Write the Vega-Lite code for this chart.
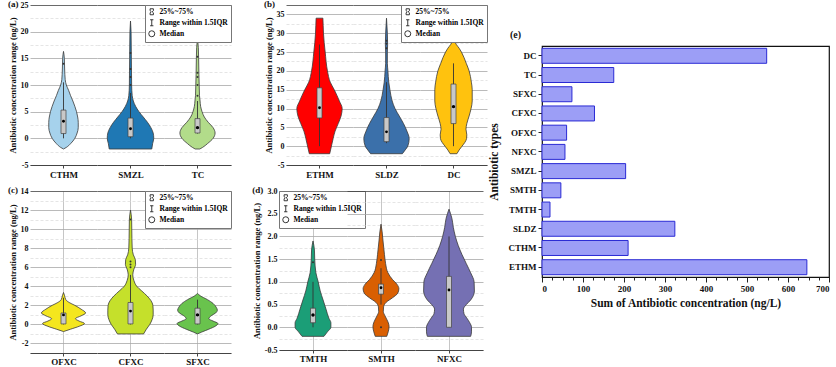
{
"$schema": "https://vega.github.io/schema/vega-lite/v6.json",
"padding": {"left": 8, "top": 0, "right": 0, "bottom": 0},
"config": {
  "font": "Liberation Serif",
  "view": {"stroke": null},
  "axis": {"labelFont": "Liberation Serif", "titleFont": "Liberation Serif", "labelFontWeight": "bold", "titleFontWeight": "bold", "labelColor": "#111", "titleColor": "#111"},
  "title": {"font": "Liberation Serif", "fontWeight": "bold", "fontSize": 9, "color": "#111"},
  "legend": {"orient": "top-right", "offset": 0, "title": null, "padding": 3, "fillColor": "#ffffff", "strokeColor": "#777", "rowPadding": 0, "labelFontSize": 7.5, "labelFont": "Liberation Serif", "labelFontWeight": "bold", "labelOffset": 4, "symbolSize": 36, "symbolStrokeWidth": 0.9, "symbolStrokeColor": "#222"}
},
"datasets": {
  "a": [
    {"drug":"CTHM","k":"v","v":16.3,"w":0},{"drug":"CTHM","k":"v","v":15,"w":6},{"drug":"CTHM","k":"v","v":13,"w":8},{"drug":"CTHM","k":"v","v":11,"w":12},{"drug":"CTHM","k":"v","v":10,"w":20},{"drug":"CTHM","k":"v","v":9,"w":36},{"drug":"CTHM","k":"v","v":8,"w":50},{"drug":"CTHM","k":"v","v":7,"w":66},{"drug":"CTHM","k":"v","v":6,"w":80},{"drug":"CTHM","k":"v","v":5,"w":92},{"drug":"CTHM","k":"v","v":4,"w":100},{"drug":"CTHM","k":"v","v":3,"w":104},{"drug":"CTHM","k":"v","v":2,"w":104},{"drug":"CTHM","k":"v","v":1,"w":96},{"drug":"CTHM","k":"v","v":0,"w":80},{"drug":"CTHM","k":"v","v":-1,"w":50},{"drug":"CTHM","k":"v","v":-1.7,"w":20},{"drug":"CTHM","k":"v","v":-2,"w":0},
    {"drug":"SMZL","k":"v","v":22,"w":0},{"drug":"SMZL","k":"v","v":20,"w":4},{"drug":"SMZL","k":"v","v":15,"w":6},{"drug":"SMZL","k":"v","v":10,"w":8},{"drug":"SMZL","k":"v","v":8,"w":12},{"drug":"SMZL","k":"v","v":7,"w":20},{"drug":"SMZL","k":"v","v":6,"w":36},{"drug":"SMZL","k":"v","v":5,"w":60},{"drug":"SMZL","k":"v","v":4,"w":90},{"drug":"SMZL","k":"v","v":3,"w":120},{"drug":"SMZL","k":"v","v":2,"w":144},{"drug":"SMZL","k":"v","v":1,"w":160},{"drug":"SMZL","k":"v","v":0,"w":164},{"drug":"SMZL","k":"v","v":-1,"w":156},{"drug":"SMZL","k":"v","v":-2,"w":150},
    {"drug":"TC","k":"v","v":18.8,"w":0},{"drug":"TC","k":"v","v":17,"w":6},{"drug":"TC","k":"v","v":15,"w":8},{"drug":"TC","k":"v","v":12,"w":10},{"drug":"TC","k":"v","v":10,"w":12},{"drug":"TC","k":"v","v":8,"w":14},{"drug":"TC","k":"v","v":7,"w":18},{"drug":"TC","k":"v","v":6,"w":22},{"drug":"TC","k":"v","v":5,"w":32},{"drug":"TC","k":"v","v":4,"w":48},{"drug":"TC","k":"v","v":3,"w":76},{"drug":"TC","k":"v","v":2,"w":110},{"drug":"TC","k":"v","v":1,"w":124},{"drug":"TC","k":"v","v":0,"w":110},{"drug":"TC","k":"v","v":-1,"w":70},{"drug":"TC","k":"v","v":-1.7,"w":36},{"drug":"TC","k":"v","v":-2,"w":16},
    {"drug":"CTHM","k":"b","lo":0,"q1":0.9,"med":3.2,"q3":5.3,"hi":10.5},
    {"drug":"SMZL","k":"b","lo":0,"q1":0.3,"med":1.8,"q3":3.8,"hi":8.5},
    {"drug":"TC","k":"b","lo":0.9,"q1":1,"med":2,"q3":3.7,"hi":7},
    {"drug":"CTHM","k":"o","v":14},
    {"drug":"SMZL","k":"o","v":10},{"drug":"SMZL","k":"o","v":11.5},{"drug":"SMZL","k":"o","v":13},{"drug":"SMZL","k":"o","v":16},
    {"drug":"TC","k":"o","v":8},{"drug":"TC","k":"o","v":10},{"drug":"TC","k":"o","v":11.5},{"drug":"TC","k":"o","v":12.3},{"drug":"TC","k":"o","v":15.3}
  ],
  "b": [
    {"drug":"ETHM","k":"v","v":34,"w":24},{"drug":"ETHM","k":"v","v":32,"w":26},{"drug":"ETHM","k":"v","v":30,"w":28},{"drug":"ETHM","k":"v","v":25,"w":40},{"drug":"ETHM","k":"v","v":20,"w":56},{"drug":"ETHM","k":"v","v":17,"w":76},{"drug":"ETHM","k":"v","v":15,"w":104},{"drug":"ETHM","k":"v","v":12,"w":140},{"drug":"ETHM","k":"v","v":10,"w":160},{"drug":"ETHM","k":"v","v":8,"w":152},{"drug":"ETHM","k":"v","v":6,"w":132},{"drug":"ETHM","k":"v","v":4,"w":110},{"drug":"ETHM","k":"v","v":2,"w":96},{"drug":"ETHM","k":"v","v":0,"w":84},{"drug":"ETHM","k":"v","v":-2,"w":72},
    {"drug":"SLDZ","k":"v","v":34,"w":0},{"drug":"SLDZ","k":"v","v":30,"w":6},{"drug":"SLDZ","k":"v","v":27,"w":8},{"drug":"SLDZ","k":"v","v":25,"w":6},{"drug":"SLDZ","k":"v","v":22,"w":6},{"drug":"SLDZ","k":"v","v":20,"w":10},{"drug":"SLDZ","k":"v","v":17,"w":16},{"drug":"SLDZ","k":"v","v":15,"w":24},{"drug":"SLDZ","k":"v","v":12,"w":40},{"drug":"SLDZ","k":"v","v":10,"w":60},{"drug":"SLDZ","k":"v","v":8,"w":90},{"drug":"SLDZ","k":"v","v":6,"w":120},{"drug":"SLDZ","k":"v","v":4,"w":144},{"drug":"SLDZ","k":"v","v":2,"w":160},{"drug":"SLDZ","k":"v","v":0,"w":150},{"drug":"SLDZ","k":"v","v":-1,"w":132},{"drug":"SLDZ","k":"v","v":-2,"w":112},
    {"drug":"DC","k":"v","v":29,"w":0},{"drug":"DC","k":"v","v":28,"w":6},{"drug":"DC","k":"v","v":27,"w":20},{"drug":"DC","k":"v","v":26,"w":40},{"drug":"DC","k":"v","v":25,"w":56},{"drug":"DC","k":"v","v":22,"w":90},{"drug":"DC","k":"v","v":20,"w":110},{"drug":"DC","k":"v","v":17,"w":126},{"drug":"DC","k":"v","v":15,"w":132},{"drug":"DC","k":"v","v":12,"w":132},{"drug":"DC","k":"v","v":10,"w":124},{"drug":"DC","k":"v","v":8,"w":110},{"drug":"DC","k":"v","v":6,"w":94},{"drug":"DC","k":"v","v":4.5,"w":88},{"drug":"DC","k":"v","v":3,"w":94},{"drug":"DC","k":"v","v":2,"w":92},{"drug":"DC","k":"v","v":1,"w":80},{"drug":"DC","k":"v","v":0,"w":60},{"drug":"DC","k":"v","v":-1,"w":40},{"drug":"DC","k":"v","v":-2,"w":24},
    {"drug":"ETHM","k":"b","lo":0,"q1":7.5,"med":10.2,"q3":15.5,"hi":27},
    {"drug":"SLDZ","k":"b","lo":0.8,"q1":1.2,"med":3.8,"q3":7.6,"hi":17},
    {"drug":"DC","k":"b","lo":0,"q1":6,"med":10.5,"q3":16.5,"hi":22},
    {"drug":"SLDZ","k":"o","v":26},{"drug":"SLDZ","k":"o","v":27.2},{"drug":"SLDZ","k":"o","v":28}
  ],
  "c": [
    {"drug":"OFXC","k":"v","v":3.35,"w":0},{"drug":"OFXC","k":"v","v":3,"w":8},{"drug":"OFXC","k":"v","v":2.6,"w":16},{"drug":"OFXC","k":"v","v":2.3,"w":40},{"drug":"OFXC","k":"v","v":2,"w":80},{"drug":"OFXC","k":"v","v":1.6,"w":124},{"drug":"OFXC","k":"v","v":1.2,"w":156},{"drug":"OFXC","k":"v","v":0.9,"w":124},{"drug":"OFXC","k":"v","v":0.6,"w":84},{"drug":"OFXC","k":"v","v":0.35,"w":110},{"drug":"OFXC","k":"v","v":0.1,"w":148},{"drug":"OFXC","k":"v","v":-0.2,"w":110},{"drug":"OFXC","k":"v","v":-0.5,"w":50},{"drug":"OFXC","k":"v","v":-0.75,"w":0},
    {"drug":"CFXC","k":"v","v":12,"w":0},{"drug":"CFXC","k":"v","v":11,"w":8},{"drug":"CFXC","k":"v","v":9,"w":10},{"drug":"CFXC","k":"v","v":8,"w":12},{"drug":"CFXC","k":"v","v":7.3,"w":20},{"drug":"CFXC","k":"v","v":6.8,"w":34},{"drug":"CFXC","k":"v","v":6.3,"w":36},{"drug":"CFXC","k":"v","v":5.8,"w":24},{"drug":"CFXC","k":"v","v":5.2,"w":16},{"drug":"CFXC","k":"v","v":4.6,"w":24},{"drug":"CFXC","k":"v","v":4,"w":44},{"drug":"CFXC","k":"v","v":3.5,"w":80},{"drug":"CFXC","k":"v","v":3,"w":116},{"drug":"CFXC","k":"v","v":2.5,"w":144},{"drug":"CFXC","k":"v","v":2,"w":158},{"drug":"CFXC","k":"v","v":1.5,"w":160},{"drug":"CFXC","k":"v","v":1,"w":160},{"drug":"CFXC","k":"v","v":0.5,"w":152},{"drug":"CFXC","k":"v","v":0,"w":136},{"drug":"CFXC","k":"v","v":-0.5,"w":112},{"drug":"CFXC","k":"v","v":-1,"w":92},
    {"drug":"SFXC","k":"v","v":3.25,"w":0},{"drug":"SFXC","k":"v","v":3,"w":20},{"drug":"SFXC","k":"v","v":2.6,"w":70},{"drug":"SFXC","k":"v","v":2.2,"w":110},{"drug":"SFXC","k":"v","v":1.8,"w":132},{"drug":"SFXC","k":"v","v":1.5,"w":140},{"drug":"SFXC","k":"v","v":1.2,"w":128},{"drug":"SFXC","k":"v","v":0.9,"w":96},{"drug":"SFXC","k":"v","v":0.6,"w":80},{"drug":"SFXC","k":"v","v":0.35,"w":110},{"drug":"SFXC","k":"v","v":0.1,"w":144},{"drug":"SFXC","k":"v","v":-0.2,"w":124},{"drug":"SFXC","k":"v","v":-0.5,"w":80},{"drug":"SFXC","k":"v","v":-0.8,"w":30},{"drug":"SFXC","k":"v","v":-1,"w":0},
    {"drug":"OFXC","k":"b","lo":0,"q1":0.05,"med":1.0,"q3":1.2,"hi":2.8},
    {"drug":"CFXC","k":"b","lo":0,"q1":0.05,"med":1.4,"q3":2.3,"hi":5.2},
    {"drug":"SFXC","k":"b","lo":0,"q1":0.05,"med":1.0,"q3":1.7,"hi":2.6},
    {"drug":"CFXC","k":"o","v":6.0},{"drug":"CFXC","k":"o","v":6.3},{"drug":"CFXC","k":"o","v":6.6},{"drug":"CFXC","k":"o","v":11}
  ],
  "d": [
    {"drug":"TMTH","k":"v","v":1.9,"w":0},{"drug":"TMTH","k":"v","v":1.7,"w":10},{"drug":"TMTH","k":"v","v":1.5,"w":12},{"drug":"TMTH","k":"v","v":1.2,"w":20},{"drug":"TMTH","k":"v","v":1,"w":36},{"drug":"TMTH","k":"v","v":0.8,"w":50},{"drug":"TMTH","k":"v","v":0.6,"w":70},{"drug":"TMTH","k":"v","v":0.4,"w":90},{"drug":"TMTH","k":"v","v":0.2,"w":110},{"drug":"TMTH","k":"v","v":0.1,"w":124},{"drug":"TMTH","k":"v","v":0,"w":124},{"drug":"TMTH","k":"v","v":-0.1,"w":100},{"drug":"TMTH","k":"v","v":-0.2,"w":76},
    {"drug":"SMTH","k":"v","v":2.27,"w":0},{"drug":"SMTH","k":"v","v":2.1,"w":8},{"drug":"SMTH","k":"v","v":1.9,"w":14},{"drug":"SMTH","k":"v","v":1.6,"w":24},{"drug":"SMTH","k":"v","v":1.4,"w":32},{"drug":"SMTH","k":"v","v":1.2,"w":48},{"drug":"SMTH","k":"v","v":1.05,"w":80},{"drug":"SMTH","k":"v","v":0.95,"w":110},{"drug":"SMTH","k":"v","v":0.85,"w":124},{"drug":"SMTH","k":"v","v":0.75,"w":116},{"drug":"SMTH","k":"v","v":0.65,"w":80},{"drug":"SMTH","k":"v","v":0.55,"w":36},{"drug":"SMTH","k":"v","v":0.45,"w":18},{"drug":"SMTH","k":"v","v":0.35,"w":16},{"drug":"SMTH","k":"v","v":0.25,"w":28},{"drug":"SMTH","k":"v","v":0.12,"w":48},{"drug":"SMTH","k":"v","v":0.02,"w":56},{"drug":"SMTH","k":"v","v":-0.1,"w":50},{"drug":"SMTH","k":"v","v":-0.2,"w":40},
    {"drug":"NFXC","k":"v","v":2.6,"w":0},{"drug":"NFXC","k":"v","v":2.4,"w":20},{"drug":"NFXC","k":"v","v":2.2,"w":30},{"drug":"NFXC","k":"v","v":2,"w":44},{"drug":"NFXC","k":"v","v":1.8,"w":64},{"drug":"NFXC","k":"v","v":1.6,"w":90},{"drug":"NFXC","k":"v","v":1.4,"w":120},{"drug":"NFXC","k":"v","v":1.2,"w":150},{"drug":"NFXC","k":"v","v":1,"w":174},{"drug":"NFXC","k":"v","v":0.8,"w":176},{"drug":"NFXC","k":"v","v":0.6,"w":150},{"drug":"NFXC","k":"v","v":0.5,"w":120},{"drug":"NFXC","k":"v","v":0.4,"w":100},{"drug":"NFXC","k":"v","v":0.3,"w":104},{"drug":"NFXC","k":"v","v":0.2,"w":124},{"drug":"NFXC","k":"v","v":0.1,"w":144},{"drug":"NFXC","k":"v","v":0,"w":156},{"drug":"NFXC","k":"v","v":-0.1,"w":156},{"drug":"NFXC","k":"v","v":-0.2,"w":150},
    {"drug":"TMTH","k":"b","lo":0,"q1":0.1,"med":0.27,"q3":0.42,"hi":1.0},
    {"drug":"SMTH","k":"b","lo":0.5,"q1":0.73,"med":0.87,"q3":0.95,"hi":1.3},
    {"drug":"NFXC","k":"b","lo":0,"q1":0,"med":0.82,"q3":1.12,"hi":2.0},
    {"drug":"TMTH","k":"o","v":1.43},{"drug":"SMTH","k":"o","v":1.48},{"drug":"SMTH","k":"o","v":0.0}
  ],
  "e": [
    {"drug":"DC","sum":548},{"drug":"TC","sum":175},{"drug":"SFXC","sum":73},{"drug":"CFXC","sum":128},{"drug":"OFXC","sum":60},{"drug":"NFXC","sum":56},{"drug":"SMZL","sum":204},{"drug":"SMTH","sum":46},{"drug":"TMTH","sum":19.5},{"drug":"SLDZ","sum":324},{"drug":"CTHM","sum":210},{"drug":"ETHM","sum":646}
  ]
},
"hconcat": [
  {"vconcat": [
    {"hconcat": [
      {"data": {"name": "a"}, "bounds": "flush", "spacing": 0,
       "title": {"text": "(a)", "anchor": "start", "frame": "bounds", "offset": 0, "dy": 8},
       "resolve": {"scale": {"shape": "independent"}},
       "hconcat": [
        {"width": 67, "height": 160, "transform": [{"filter": {"field": "drug", "equal": "CTHM"}}],
         "layer": [
          {"transform": [{"filter": {"field": "k", "equal": "v"}}],
           "mark": {"type": "area", "orient": "horizontal", "interpolate": "monotone", "fill": "#a6d2ec", "stroke": "#3a3a3a", "strokeWidth": 0.8},
           "encoding": {
             "y": {"field": "v", "type": "quantitative", "scale": {"domain": [-5, 25], "nice": false, "zero": false},
                   "axis": {"values": [-5,-2.5,0,2.5,5,7.5,10,12.5,15,17.5,20,22.5,25], "tickCount": 100, "labelOverlap": false, "labelExpr": "datum.value % 5 == 0 ? '' + datum.value : ''", "labelFontSize": 8, "labelPadding": 2, "ticks": false, "domain": false, "grid": true, "gridWidth": 0.8,
                            "gridColor": {"condition": [{"test": "datum.value == 25", "value": "#444"}, {"test": "datum.value % 5 != 0", "value": "#dedede"}], "value": "#a8a8a8"},
                            "gridDash": {"condition": {"test": "datum.value % 5 != 0", "value": [3, 2]}, "value": []},
                            "title": "Antibiotic concentration range (ng/L)", "titleFontSize": 8.5, "titlePadding": 3}},
             "x": {"field": "w", "type": "quantitative", "stack": "center", "scale": {"domain": [-48.5, 152.5], "nice": false, "zero": false},
                   "axis": {"values": [52], "labels": false, "tickSize": 3, "tickColor": "#444", "domainColor": "#444", "grid": false, "titleFontSize": 9, "titlePadding": 2}, "title": "CTHM"}
           }},
          {"transform": [{"filter": {"field": "k", "equal": "b"}}], "mark": {"type": "rule", "color": "#333", "strokeWidth": 0.9},
           "encoding": {"x": {"datum": 52, "type": "quantitative"}, "y": {"field": "lo", "type": "quantitative"}, "y2": {"field": "hi"}}},
          {"transform": [{"filter": {"field": "k", "equal": "b"}}], "mark": {"type": "bar", "width": 5, "fill": "#c8c8c8", "stroke": "#444", "strokeWidth": 0.7},
           "encoding": {"x": {"datum": 52, "type": "quantitative"}, "y": {"field": "q1", "type": "quantitative"}, "y2": {"field": "q3"}}},
          {"transform": [{"filter": {"field": "k", "equal": "b"}}], "mark": {"type": "point", "filled": true, "color": "#000", "size": 8, "opacity": 1},
           "encoding": {"x": {"datum": 52, "type": "quantitative"}, "y": {"field": "med", "type": "quantitative"}}},
          {"transform": [{"filter": {"field": "k", "equal": "o"}}], "mark": {"type": "point", "filled": true, "color": "#333", "size": 4, "opacity": 1},
           "encoding": {"x": {"datum": 52, "type": "quantitative"}, "y": {"field": "v", "type": "quantitative"}}}
         ]},
        {"width": 67, "height": 160, "transform": [{"filter": {"field": "drug", "equal": "SMZL"}}],
         "layer": [
          {"transform": [{"filter": {"field": "k", "equal": "v"}}],
           "mark": {"type": "area", "orient": "horizontal", "interpolate": "monotone", "fill": "#1f78b4", "stroke": "#3a3a3a", "strokeWidth": 0.8},
           "encoding": {
             "y": {"field": "v", "type": "quantitative", "scale": {"domain": [-5, 25], "nice": false, "zero": false},
                   "axis": {"values": [-5,-2.5,0,2.5,5,7.5,10,12.5,15,17.5,20,22.5,25], "tickCount": 100, "labels": false, "ticks": false, "domain": false, "grid": true, "gridWidth": 0.8,
                            "gridColor": {"condition": [{"test": "datum.value == 25", "value": "#444"}, {"test": "datum.value % 5 != 0", "value": "#dedede"}], "value": "#a8a8a8"},
                            "gridDash": {"condition": {"test": "datum.value % 5 != 0", "value": [3, 2]}, "value": []}, "title": null}},
             "x": {"field": "w", "type": "quantitative", "stack": "center", "scale": {"domain": [-18.5, 182.5], "nice": false, "zero": false},
                   "axis": {"values": [82], "labels": false, "tickSize": 3, "tickColor": "#444", "domainColor": "#444", "grid": false, "titleFontSize": 9, "titlePadding": 2}, "title": "SMZL"}
           }},
          {"transform": [{"filter": {"field": "k", "equal": "b"}}], "mark": {"type": "rule", "color": "#333", "strokeWidth": 0.9},
           "encoding": {"x": {"datum": 82, "type": "quantitative"}, "y": {"field": "lo", "type": "quantitative"}, "y2": {"field": "hi"}}},
          {"transform": [{"filter": {"field": "k", "equal": "b"}}], "mark": {"type": "bar", "width": 5, "fill": "#c8c8c8", "stroke": "#444", "strokeWidth": 0.7},
           "encoding": {"x": {"datum": 82, "type": "quantitative"}, "y": {"field": "q1", "type": "quantitative"}, "y2": {"field": "q3"}}},
          {"transform": [{"filter": {"field": "k", "equal": "b"}}], "mark": {"type": "point", "filled": true, "color": "#000", "size": 8, "opacity": 1},
           "encoding": {"x": {"datum": 82, "type": "quantitative"}, "y": {"field": "med", "type": "quantitative"}}},
          {"transform": [{"filter": {"field": "k", "equal": "o"}}], "mark": {"type": "point", "filled": true, "color": "#333", "size": 4, "opacity": 1},
           "encoding": {"x": {"datum": 82, "type": "quantitative"}, "y": {"field": "v", "type": "quantitative"}}}
         ]},
        {"width": 67, "height": 160, "transform": [{"filter": {"field": "drug", "equal": "TC"}}],
         "layer": [
          {"transform": [{"filter": {"field": "k", "equal": "v"}}],
           "mark": {"type": "area", "orient": "horizontal", "interpolate": "monotone", "fill": "#b2dc8a", "stroke": "#3a3a3a", "strokeWidth": 0.8},
           "encoding": {
             "y": {"field": "v", "type": "quantitative", "scale": {"domain": [-5, 25], "nice": false, "zero": false},
                   "axis": {"values": [-5,-2.5,0,2.5,5,7.5,10,12.5,15,17.5,20,22.5,25], "tickCount": 100, "labels": false, "ticks": false, "domain": false, "grid": true, "gridWidth": 0.8,
                            "gridColor": {"condition": [{"test": "datum.value == 25", "value": "#444"}, {"test": "datum.value % 5 != 0", "value": "#dedede"}], "value": "#a8a8a8"},
                            "gridDash": {"condition": {"test": "datum.value % 5 != 0", "value": [3, 2]}, "value": []}, "title": null}},
             "x": {"field": "w", "type": "quantitative", "stack": "center", "scale": {"domain": [-38.5, 162.5], "nice": false, "zero": false},
                   "axis": {"values": [62], "labels": false, "tickSize": 3, "tickColor": "#444", "domainColor": "#444", "grid": false, "titleFontSize": 9, "titlePadding": 2}, "title": "TC"}
           }},
          {"transform": [{"filter": {"field": "k", "equal": "b"}}], "mark": {"type": "rule", "color": "#333", "strokeWidth": 0.9},
           "encoding": {"x": {"datum": 62, "type": "quantitative"}, "y": {"field": "lo", "type": "quantitative"}, "y2": {"field": "hi"}}},
          {"transform": [{"filter": {"field": "k", "equal": "b"}}], "mark": {"type": "bar", "width": 5, "fill": "#c8c8c8", "stroke": "#444", "strokeWidth": 0.7},
           "encoding": {"x": {"datum": 62, "type": "quantitative"}, "y": {"field": "q1", "type": "quantitative"}, "y2": {"field": "q3"}}},
          {"transform": [{"filter": {"field": "k", "equal": "b"}}], "mark": {"type": "point", "filled": false, "stroke": "#000", "strokeWidth": 1.6, "size": 3, "opacity": 1},
           "encoding": {"x": {"datum": 62, "type": "quantitative"}, "y": {"field": "med", "type": "quantitative"},
             "shape": {"datum": "Median", "type": "nominal",
               "scale": {"domain": ["25%~75%", "Range within 1.5IQR", "Median"], "range": ["M-0.55,-1H0.55V-0.35L0.15,0L0.55,0.35V1H-0.55V0.35L-0.15,0L-0.55,-0.35Z", "M-0.55,-1H0.55M0,-1V1M-0.55,1H0.55", "circle"]},
               "legend": {"orient": "top-right"}}}},
          {"transform": [{"filter": {"field": "k", "equal": "o"}}], "mark": {"type": "point", "filled": true, "color": "#333", "size": 4, "opacity": 1},
           "encoding": {"x": {"datum": 62, "type": "quantitative"}, "y": {"field": "v", "type": "quantitative"}}}
         ]}
       ]},
      {"data": {"name": "b"}, "bounds": "flush", "spacing": 0,
       "title": {"text": "(b)", "anchor": "start", "frame": "bounds", "offset": 0, "dy": 8},
       "resolve": {"scale": {"shape": "independent"}},
       "hconcat": [
        {"width": 67, "height": 160, "transform": [{"filter": {"field": "drug", "equal": "ETHM"}}],
         "layer": [
          {"transform": [{"filter": {"field": "k", "equal": "v"}}],
           "mark": {"type": "area", "orient": "horizontal", "interpolate": "monotone", "fill": "#ff0000", "stroke": "#3a3a3a", "strokeWidth": 0.8},
           "encoding": {
             "y": {"field": "v", "type": "quantitative", "scale": {"domain": [-5, 37.5], "nice": false, "zero": false},
                   "axis": {"values": [-5,-2.5,0,2.5,5,7.5,10,12.5,15,17.5,20,22.5,25,27.5,30,32.5,35,37.5], "tickCount": 100, "labelOverlap": false, "labelExpr": "datum.value % 5 == 0 ? '' + datum.value : ''", "labelFontSize": 8, "labelPadding": 2, "ticks": false, "domain": false, "grid": true, "gridWidth": 0.8,
                            "gridColor": {"condition": [{"test": "datum.value == 37.5", "value": "#444"}, {"test": "datum.value % 5 != 0", "value": "#dedede"}], "value": "#a8a8a8"},
                            "gridDash": {"condition": {"test": "datum.value % 5 != 0 && datum.value != 37.5", "value": [3, 2]}, "value": []},
                            "title": "Antibiotic concentration range (ng/L)", "titleFontSize": 8.5, "titlePadding": 3}},
             "x": {"field": "w", "type": "quantitative", "stack": "center", "scale": {"domain": [-20.5, 180.5], "nice": false, "zero": false},
                   "axis": {"values": [80], "labels": false, "tickSize": 3, "tickColor": "#444", "domainColor": "#444", "grid": false, "titleFontSize": 9, "titlePadding": 2}, "title": "ETHM"}
           }},
          {"transform": [{"filter": {"field": "k", "equal": "b"}}], "mark": {"type": "rule", "color": "#333", "strokeWidth": 0.9},
           "encoding": {"x": {"datum": 80, "type": "quantitative"}, "y": {"field": "lo", "type": "quantitative"}, "y2": {"field": "hi"}}},
          {"transform": [{"filter": {"field": "k", "equal": "b"}}], "mark": {"type": "bar", "width": 5, "fill": "#c8c8c8", "stroke": "#444", "strokeWidth": 0.7},
           "encoding": {"x": {"datum": 80, "type": "quantitative"}, "y": {"field": "q1", "type": "quantitative"}, "y2": {"field": "q3"}}},
          {"transform": [{"filter": {"field": "k", "equal": "b"}}], "mark": {"type": "point", "filled": true, "color": "#000", "size": 8, "opacity": 1},
           "encoding": {"x": {"datum": 80, "type": "quantitative"}, "y": {"field": "med", "type": "quantitative"}}}
         ]},
        {"width": 67, "height": 160, "transform": [{"filter": {"field": "drug", "equal": "SLDZ"}}],
         "layer": [
          {"transform": [{"filter": {"field": "k", "equal": "v"}}],
           "mark": {"type": "area", "orient": "horizontal", "interpolate": "monotone", "fill": "#3b70aa", "stroke": "#3a3a3a", "strokeWidth": 0.8},
           "encoding": {
             "y": {"field": "v", "type": "quantitative", "scale": {"domain": [-5, 37.5], "nice": false, "zero": false},
                   "axis": {"values": [-5,-2.5,0,2.5,5,7.5,10,12.5,15,17.5,20,22.5,25,27.5,30,32.5,35,37.5], "tickCount": 100, "labels": false, "ticks": false, "domain": false, "grid": true, "gridWidth": 0.8,
                            "gridColor": {"condition": [{"test": "datum.value == 37.5", "value": "#444"}, {"test": "datum.value % 5 != 0", "value": "#dedede"}], "value": "#a8a8a8"},
                            "gridDash": {"condition": {"test": "datum.value % 5 != 0 && datum.value != 37.5", "value": [3, 2]}, "value": []}, "title": null}},
             "x": {"field": "w", "type": "quantitative", "stack": "center", "scale": {"domain": [-20.5, 180.5], "nice": false, "zero": false},
                   "axis": {"values": [80], "labels": false, "tickSize": 3, "tickColor": "#444", "domainColor": "#444", "grid": false, "titleFontSize": 9, "titlePadding": 2}, "title": "SLDZ"}
           }},
          {"transform": [{"filter": {"field": "k", "equal": "b"}}], "mark": {"type": "rule", "color": "#333", "strokeWidth": 0.9},
           "encoding": {"x": {"datum": 80, "type": "quantitative"}, "y": {"field": "lo", "type": "quantitative"}, "y2": {"field": "hi"}}},
          {"transform": [{"filter": {"field": "k", "equal": "b"}}], "mark": {"type": "bar", "width": 5, "fill": "#c8c8c8", "stroke": "#444", "strokeWidth": 0.7},
           "encoding": {"x": {"datum": 80, "type": "quantitative"}, "y": {"field": "q1", "type": "quantitative"}, "y2": {"field": "q3"}}},
          {"transform": [{"filter": {"field": "k", "equal": "b"}}], "mark": {"type": "point", "filled": true, "color": "#000", "size": 8, "opacity": 1},
           "encoding": {"x": {"datum": 80, "type": "quantitative"}, "y": {"field": "med", "type": "quantitative"}}},
          {"transform": [{"filter": {"field": "k", "equal": "o"}}], "mark": {"type": "point", "filled": true, "color": "#333", "size": 4, "opacity": 1},
           "encoding": {"x": {"datum": 80, "type": "quantitative"}, "y": {"field": "v", "type": "quantitative"}}}
         ]},
        {"width": 67, "height": 160, "transform": [{"filter": {"field": "drug", "equal": "DC"}}],
         "layer": [
          {"transform": [{"filter": {"field": "k", "equal": "v"}}],
           "mark": {"type": "area", "orient": "horizontal", "interpolate": "monotone", "fill": "#ffc20e", "stroke": "#3a3a3a", "strokeWidth": 0.8},
           "encoding": {
             "y": {"field": "v", "type": "quantitative", "scale": {"domain": [-5, 37.5], "nice": false, "zero": false},
                   "axis": {"values": [-5,-2.5,0,2.5,5,7.5,10,12.5,15,17.5,20,22.5,25,27.5,30,32.5,35,37.5], "tickCount": 100, "labels": false, "ticks": false, "domain": false, "grid": true, "gridWidth": 0.8,
                            "gridColor": {"condition": [{"test": "datum.value == 37.5", "value": "#444"}, {"test": "datum.value % 5 != 0", "value": "#dedede"}], "value": "#a8a8a8"},
                            "gridDash": {"condition": {"test": "datum.value % 5 != 0 && datum.value != 37.5", "value": [3, 2]}, "value": []}, "title": null}},
             "x": {"field": "w", "type": "quantitative", "stack": "center", "scale": {"domain": [-34.5, 166.5], "nice": false, "zero": false},
                   "axis": {"values": [66], "labels": false, "tickSize": 3, "tickColor": "#444", "domainColor": "#444", "grid": false, "titleFontSize": 9, "titlePadding": 2}, "title": "DC"}
           }},
          {"transform": [{"filter": {"field": "k", "equal": "b"}}], "mark": {"type": "rule", "color": "#333", "strokeWidth": 0.9},
           "encoding": {"x": {"datum": 66, "type": "quantitative"}, "y": {"field": "lo", "type": "quantitative"}, "y2": {"field": "hi"}}},
          {"transform": [{"filter": {"field": "k", "equal": "b"}}], "mark": {"type": "bar", "width": 5, "fill": "#c8c8c8", "stroke": "#444", "strokeWidth": 0.7},
           "encoding": {"x": {"datum": 66, "type": "quantitative"}, "y": {"field": "q1", "type": "quantitative"}, "y2": {"field": "q3"}}},
          {"transform": [{"filter": {"field": "k", "equal": "b"}}], "mark": {"type": "point", "filled": false, "stroke": "#000", "strokeWidth": 1.6, "size": 3, "opacity": 1},
           "encoding": {"x": {"datum": 66, "type": "quantitative"}, "y": {"field": "med", "type": "quantitative"},
             "shape": {"datum": "Median", "type": "nominal",
               "scale": {"domain": ["25%~75%", "Range within 1.5IQR", "Median"], "range": ["M-0.55,-1H0.55V-0.35L0.15,0L0.55,0.35V1H-0.55V0.35L-0.15,0L-0.55,-0.35Z", "M-0.55,-1H0.55M0,-1V1M-0.55,1H0.55", "circle"]},
               "legend": {"orient": "top-right"}}}}
         ]}
       ]}
    ], "spacing": 32, "resolve": {"scale": {"shape": "independent"}}},
    {"hconcat": [
      {"data": {"name": "c"}, "bounds": "flush", "spacing": 0,
       "title": {"text": "(c)", "anchor": "start", "frame": "bounds", "offset": 0, "dy": 8},
       "resolve": {"scale": {"shape": "independent"}},
       "hconcat": [
        {"width": 67, "height": 162, "transform": [{"filter": {"field": "drug", "equal": "OFXC"}}],
         "layer": [
          {"transform": [{"filter": {"field": "k", "equal": "v"}}],
           "mark": {"type": "area", "orient": "horizontal", "interpolate": "monotone", "fill": "#f4e61e", "stroke": "#3a3a3a", "strokeWidth": 0.8},
           "encoding": {
             "y": {"field": "v", "type": "quantitative", "scale": {"domain": [-3, 14], "nice": false, "zero": false},
                   "axis": {"values": [-3,-2,-1,0,1,2,3,4,5,6,7,8,9,10,11,12,13,14], "tickCount": 100, "labelOverlap": false, "labelExpr": "datum.value % 2 == 0 ? '' + datum.value : ''", "labelFontSize": 8, "labelPadding": 2, "ticks": false, "domain": false, "grid": true, "gridWidth": 0.8,
                            "gridColor": {"condition": [{"test": "datum.value == 14", "value": "#444"}, {"test": "datum.value % 2 != 0", "value": "#dedede"}], "value": "#a8a8a8"},
                            "gridDash": {"condition": {"test": "datum.value % 2 != 0", "value": [3, 2]}, "value": []},
                            "title": "Antibiotic concentration range (ng/L)", "titleFontSize": 8.5, "titlePadding": 3}},
             "x": {"field": "w", "type": "quantitative", "stack": "center", "scale": {"domain": [-22.5, 178.5], "nice": false, "zero": false},
                   "axis": {"values": [78], "labels": false, "tickSize": 3, "tickColor": "#444", "domainColor": "#444", "grid": true, "gridColor": "#b8b8b8", "gridWidth": 0.8, "titleFontSize": 9, "titlePadding": 1}, "title": "OFXC"}
           }},
          {"transform": [{"filter": {"field": "k", "equal": "b"}}], "mark": {"type": "rule", "color": "#333", "strokeWidth": 0.9},
           "encoding": {"x": {"datum": 78, "type": "quantitative"}, "y": {"field": "lo", "type": "quantitative"}, "y2": {"field": "hi"}}},
          {"transform": [{"filter": {"field": "k", "equal": "b"}}], "mark": {"type": "bar", "width": 5, "fill": "#c8c8c8", "stroke": "#444", "strokeWidth": 0.7},
           "encoding": {"x": {"datum": 78, "type": "quantitative"}, "y": {"field": "q1", "type": "quantitative"}, "y2": {"field": "q3"}}},
          {"transform": [{"filter": {"field": "k", "equal": "b"}}], "mark": {"type": "point", "filled": true, "color": "#000", "size": 8, "opacity": 1},
           "encoding": {"x": {"datum": 78, "type": "quantitative"}, "y": {"field": "med", "type": "quantitative"}}}
         ]},
        {"width": 67, "height": 162, "transform": [{"filter": {"field": "drug", "equal": "CFXC"}}],
         "layer": [
          {"transform": [{"filter": {"field": "k", "equal": "v"}}],
           "mark": {"type": "area", "orient": "horizontal", "interpolate": "monotone", "fill": "#c5e02b", "stroke": "#3a3a3a", "strokeWidth": 0.8},
           "encoding": {
             "y": {"field": "v", "type": "quantitative", "scale": {"domain": [-3, 14], "nice": false, "zero": false},
                   "axis": {"values": [-3,-2,-1,0,1,2,3,4,5,6,7,8,9,10,11,12,13,14], "tickCount": 100, "labels": false, "ticks": false, "domain": false, "grid": true, "gridWidth": 0.8,
                            "gridColor": {"condition": [{"test": "datum.value == 14", "value": "#444"}, {"test": "datum.value % 2 != 0", "value": "#dedede"}], "value": "#a8a8a8"},
                            "gridDash": {"condition": {"test": "datum.value % 2 != 0", "value": [3, 2]}, "value": []}, "title": null}},
             "x": {"field": "w", "type": "quantitative", "stack": "center", "scale": {"domain": [-20.5, 180.5], "nice": false, "zero": false},
                   "axis": {"values": [80], "labels": false, "tickSize": 3, "tickColor": "#444", "domainColor": "#444", "grid": true, "gridColor": "#b8b8b8", "gridWidth": 0.8, "titleFontSize": 9, "titlePadding": 1}, "title": "CFXC"}
           }},
          {"transform": [{"filter": {"field": "k", "equal": "b"}}], "mark": {"type": "rule", "color": "#333", "strokeWidth": 0.9},
           "encoding": {"x": {"datum": 80, "type": "quantitative"}, "y": {"field": "lo", "type": "quantitative"}, "y2": {"field": "hi"}}},
          {"transform": [{"filter": {"field": "k", "equal": "b"}}], "mark": {"type": "bar", "width": 5, "fill": "#c8c8c8", "stroke": "#444", "strokeWidth": 0.7},
           "encoding": {"x": {"datum": 80, "type": "quantitative"}, "y": {"field": "q1", "type": "quantitative"}, "y2": {"field": "q3"}}},
          {"transform": [{"filter": {"field": "k", "equal": "b"}}], "mark": {"type": "point", "filled": true, "color": "#000", "size": 8, "opacity": 1},
           "encoding": {"x": {"datum": 80, "type": "quantitative"}, "y": {"field": "med", "type": "quantitative"}}},
          {"transform": [{"filter": {"field": "k", "equal": "o"}}], "mark": {"type": "point", "filled": true, "color": "#333", "size": 4, "opacity": 1},
           "encoding": {"x": {"datum": 80, "type": "quantitative"}, "y": {"field": "v", "type": "quantitative"}}}
         ]},
        {"width": 67, "height": 162, "transform": [{"filter": {"field": "drug", "equal": "SFXC"}}],
         "layer": [
          {"transform": [{"filter": {"field": "k", "equal": "v"}}],
           "mark": {"type": "area", "orient": "horizontal", "interpolate": "monotone", "fill": "#69c34d", "stroke": "#3a3a3a", "strokeWidth": 0.8},
           "encoding": {
             "y": {"field": "v", "type": "quantitative", "scale": {"domain": [-3, 14], "nice": false, "zero": false},
                   "axis": {"values": [-3,-2,-1,0,1,2,3,4,5,6,7,8,9,10,11,12,13,14], "tickCount": 100, "labels": false, "ticks": false, "domain": false, "grid": true, "gridWidth": 0.8,
                            "gridColor": {"condition": [{"test": "datum.value == 14", "value": "#444"}, {"test": "datum.value % 2 != 0", "value": "#dedede"}], "value": "#a8a8a8"},
                            "gridDash": {"condition": {"test": "datum.value % 2 != 0", "value": [3, 2]}, "value": []}, "title": null}},
             "x": {"field": "w", "type": "quantitative", "stack": "center", "scale": {"domain": [-28.5, 172.5], "nice": false, "zero": false},
                   "axis": {"values": [72], "labels": false, "tickSize": 3, "tickColor": "#444", "domainColor": "#444", "grid": true, "gridColor": "#b8b8b8", "gridWidth": 0.8, "titleFontSize": 9, "titlePadding": 1}, "title": "SFXC"}
           }},
          {"transform": [{"filter": {"field": "k", "equal": "b"}}], "mark": {"type": "rule", "color": "#333", "strokeWidth": 0.9},
           "encoding": {"x": {"datum": 72, "type": "quantitative"}, "y": {"field": "lo", "type": "quantitative"}, "y2": {"field": "hi"}}},
          {"transform": [{"filter": {"field": "k", "equal": "b"}}], "mark": {"type": "bar", "width": 5, "fill": "#c8c8c8", "stroke": "#444", "strokeWidth": 0.7},
           "encoding": {"x": {"datum": 72, "type": "quantitative"}, "y": {"field": "q1", "type": "quantitative"}, "y2": {"field": "q3"}}},
          {"transform": [{"filter": {"field": "k", "equal": "b"}}], "mark": {"type": "point", "filled": false, "stroke": "#000", "strokeWidth": 1.6, "size": 3, "opacity": 1},
           "encoding": {"x": {"datum": 72, "type": "quantitative"}, "y": {"field": "med", "type": "quantitative"},
             "shape": {"datum": "Median", "type": "nominal",
               "scale": {"domain": ["25%~75%", "Range within 1.5IQR", "Median"], "range": ["M-0.55,-1H0.55V-0.35L0.15,0L0.55,0.35V1H-0.55V0.35L-0.15,0L-0.55,-0.35Z", "M-0.55,-1H0.55M0,-1V1M-0.55,1H0.55", "circle"]},
               "legend": {"orient": "top-right"}}}}
         ]}
       ]},
      {"data": {"name": "d"}, "bounds": "flush", "spacing": 0,
       "title": {"text": "(d)", "anchor": "start", "frame": "bounds", "offset": 0, "dy": 8},
       "resolve": {"scale": {"shape": "independent"}},
       "hconcat": [
        {"width": 68, "height": 159, "transform": [{"filter": {"field": "drug", "equal": "TMTH"}}],
         "layer": [
          {"transform": [{"filter": {"field": "k", "equal": "v"}}],
           "mark": {"type": "area", "orient": "horizontal", "interpolate": "monotone", "fill": "#1b9e77", "stroke": "#3a3a3a", "strokeWidth": 0.8},
           "encoding": {
             "y": {"field": "v", "type": "quantitative", "scale": {"domain": [-0.5, 3], "nice": false, "zero": false},
                   "axis": {"values": [-0.5,-0.25,0,0.25,0.5,0.75,1,1.25,1.5,1.75,2,2.25,2.5,2.75,3], "tickCount": 100, "labelOverlap": false, "labelExpr": "datum.value % 0.5 == 0 ? replace(format(datum.value, '.1f'), '\u2212', '-') : ''", "labelFontSize": 8, "labelPadding": 2, "ticks": false, "domain": false, "grid": true, "gridWidth": 0.8,
                            "gridColor": {"condition": [{"test": "datum.value == 3", "value": "#444"}, {"test": "datum.value % 0.5 != 0", "value": "#dedede"}], "value": "#a8a8a8"},
                            "gridDash": {"condition": {"test": "datum.value % 0.5 != 0", "value": [3, 2]}, "value": []},
                            "title": "Antibiotic concentration range (ng/L)", "titleFontSize": 8.5, "titlePadding": 3}},
             "x": {"field": "w", "type": "quantitative", "stack": "center", "scale": {"domain": [-38.5, 162.5], "nice": false, "zero": false},
                   "axis": {"values": [62], "labels": false, "tickSize": 3, "tickColor": "#444", "domainColor": "#444", "grid": true, "gridColor": "#b8b8b8", "gridWidth": 0.8, "titleFontSize": 9, "titlePadding": 1}, "title": "TMTH"}
           }},
          {"transform": [{"filter": {"field": "k", "equal": "b"}}], "mark": {"type": "rule", "color": "#333", "strokeWidth": 0.9},
           "encoding": {"x": {"datum": 62, "type": "quantitative"}, "y": {"field": "lo", "type": "quantitative"}, "y2": {"field": "hi"}}},
          {"transform": [{"filter": {"field": "k", "equal": "b"}}], "mark": {"type": "bar", "width": 5, "fill": "#c8c8c8", "stroke": "#444", "strokeWidth": 0.7},
           "encoding": {"x": {"datum": 62, "type": "quantitative"}, "y": {"field": "q1", "type": "quantitative"}, "y2": {"field": "q3"}}},
          {"transform": [{"filter": {"field": "k", "equal": "b"}}], "mark": {"type": "point", "filled": false, "stroke": "#000", "strokeWidth": 1.6, "size": 3, "opacity": 1},
           "encoding": {"x": {"datum": 62, "type": "quantitative"}, "y": {"field": "med", "type": "quantitative"},
             "shape": {"datum": "Median", "type": "nominal",
               "scale": {"domain": ["25%~75%", "Range within 1.5IQR", "Median"], "range": ["M-0.55,-1H0.55V-0.35L0.15,0L0.55,0.35V1H-0.55V0.35L-0.15,0L-0.55,-0.35Z", "M-0.55,-1H0.55M0,-1V1M-0.55,1H0.55", "circle"]},
               "legend": {"orient": "top-left"}}}},
          {"transform": [{"filter": {"field": "k", "equal": "o"}}], "mark": {"type": "point", "filled": true, "color": "#333", "size": 4, "opacity": 1},
           "encoding": {"x": {"datum": 62, "type": "quantitative"}, "y": {"field": "v", "type": "quantitative"}}}
         ]},
        {"width": 68, "height": 159, "transform": [{"filter": {"field": "drug", "equal": "SMTH"}}],
         "layer": [
          {"transform": [{"filter": {"field": "k", "equal": "v"}}],
           "mark": {"type": "area", "orient": "horizontal", "interpolate": "monotone", "fill": "#d95f02", "stroke": "#3a3a3a", "strokeWidth": 0.8},
           "encoding": {
             "y": {"field": "v", "type": "quantitative", "scale": {"domain": [-0.5, 3], "nice": false, "zero": false},
                   "axis": {"values": [-0.5,-0.25,0,0.25,0.5,0.75,1,1.25,1.5,1.75,2,2.25,2.5,2.75,3], "tickCount": 100, "labels": false, "ticks": false, "domain": false, "grid": true, "gridWidth": 0.8,
                            "gridColor": {"condition": [{"test": "datum.value == 3", "value": "#444"}, {"test": "datum.value % 0.5 != 0", "value": "#dedede"}], "value": "#a8a8a8"},
                            "gridDash": {"condition": {"test": "datum.value % 0.5 != 0", "value": [3, 2]}, "value": []}, "title": null}},
             "x": {"field": "w", "type": "quantitative", "stack": "center", "scale": {"domain": [-38.5, 162.5], "nice": false, "zero": false},
                   "axis": {"values": [62], "labels": false, "tickSize": 3, "tickColor": "#444", "domainColor": "#444", "grid": true, "gridColor": "#b8b8b8", "gridWidth": 0.8, "titleFontSize": 9, "titlePadding": 1}, "title": "SMTH"}
           }},
          {"transform": [{"filter": {"field": "k", "equal": "b"}}], "mark": {"type": "rule", "color": "#333", "strokeWidth": 0.9},
           "encoding": {"x": {"datum": 62, "type": "quantitative"}, "y": {"field": "lo", "type": "quantitative"}, "y2": {"field": "hi"}}},
          {"transform": [{"filter": {"field": "k", "equal": "b"}}], "mark": {"type": "bar", "width": 5, "fill": "#c8c8c8", "stroke": "#444", "strokeWidth": 0.7},
           "encoding": {"x": {"datum": 62, "type": "quantitative"}, "y": {"field": "q1", "type": "quantitative"}, "y2": {"field": "q3"}}},
          {"transform": [{"filter": {"field": "k", "equal": "b"}}], "mark": {"type": "point", "filled": true, "color": "#000", "size": 8, "opacity": 1},
           "encoding": {"x": {"datum": 62, "type": "quantitative"}, "y": {"field": "med", "type": "quantitative"}}},
          {"transform": [{"filter": {"field": "k", "equal": "o"}}], "mark": {"type": "point", "filled": true, "color": "#333", "size": 4, "opacity": 1},
           "encoding": {"x": {"datum": 62, "type": "quantitative"}, "y": {"field": "v", "type": "quantitative"}}}
         ]},
        {"width": 68, "height": 159, "transform": [{"filter": {"field": "drug", "equal": "NFXC"}}],
         "layer": [
          {"transform": [{"filter": {"field": "k", "equal": "v"}}],
           "mark": {"type": "area", "orient": "horizontal", "interpolate": "monotone", "fill": "#7570b3", "stroke": "#3a3a3a", "strokeWidth": 0.8},
           "encoding": {
             "y": {"field": "v", "type": "quantitative", "scale": {"domain": [-0.5, 3], "nice": false, "zero": false},
                   "axis": {"values": [-0.5,-0.25,0,0.25,0.5,0.75,1,1.25,1.5,1.75,2,2.25,2.5,2.75,3], "tickCount": 100, "labels": false, "ticks": false, "domain": false, "grid": true, "gridWidth": 0.8,
                            "gridColor": {"condition": [{"test": "datum.value == 3", "value": "#444"}, {"test": "datum.value % 0.5 != 0", "value": "#dedede"}], "value": "#a8a8a8"},
                            "gridDash": {"condition": {"test": "datum.value % 0.5 != 0", "value": [3, 2]}, "value": []}, "title": null}},
             "x": {"field": "w", "type": "quantitative", "stack": "center", "scale": {"domain": [-12.5, 188.5], "nice": false, "zero": false},
                   "axis": {"values": [88], "labels": false, "tickSize": 3, "tickColor": "#444", "domainColor": "#444", "grid": true, "gridColor": "#b8b8b8", "gridWidth": 0.8, "titleFontSize": 9, "titlePadding": 1}, "title": "NFXC"}
           }},
          {"transform": [{"filter": {"field": "k", "equal": "b"}}], "mark": {"type": "rule", "color": "#333", "strokeWidth": 0.9},
           "encoding": {"x": {"datum": 88, "type": "quantitative"}, "y": {"field": "lo", "type": "quantitative"}, "y2": {"field": "hi"}}},
          {"transform": [{"filter": {"field": "k", "equal": "b"}}], "mark": {"type": "bar", "width": 5, "fill": "#c8c8c8", "stroke": "#444", "strokeWidth": 0.7},
           "encoding": {"x": {"datum": 88, "type": "quantitative"}, "y": {"field": "q1", "type": "quantitative"}, "y2": {"field": "q3"}}},
          {"transform": [{"filter": {"field": "k", "equal": "b"}}], "mark": {"type": "point", "filled": true, "color": "#000", "size": 8, "opacity": 1},
           "encoding": {"x": {"datum": 88, "type": "quantitative"}, "y": {"field": "med", "type": "quantitative"}}}
         ]}
       ]}
    ], "spacing": 20, "resolve": {"scale": {"shape": "independent"}}}
  ], "spacing": 6, "resolve": {"scale": {"shape": "independent"}}},
  {"vconcat": [
   {"width": 287, "height": 19, "data": {"values": []}, "mark": "point"},
   {"data": {"name": "e"}, "width": 287, "height": 231,
    "view": {"stroke": "#111", "strokeWidth": 1.2},
    "title": {"text": "(e)", "anchor": "start", "frame": "bounds", "dx": 22, "fontSize": 10, "offset": 6},
    "mark": {"type": "bar", "fill": "#9c9ef6", "stroke": "#2a2ad4", "strokeWidth": 1},
    "encoding": {
      "y": {"field": "drug", "type": "nominal", "sort": ["DC","TC","SFXC","CFXC","OFXC","NFXC","SMZL","SMTH","TMTH","SLDZ","CTHM","ETHM"],
            "scale": {"paddingInner": 0.22, "paddingOuter": 0.12},
            "axis": {"title": "Antibiotic types", "titleFontSize": 11.5, "labelFontSize": 9, "tickSize": 4, "tickColor": "#222", "domain": false, "labelPadding": 2, "titlePadding": 9}},
      "x": {"field": "sum", "type": "quantitative", "scale": {"domain": [0, 700], "nice": false},
            "axis": {"title": "Sum of Antibiotic concentration (ng/L)", "values": [0,25,50,75,100,125,150,175,200,225,250,275,300,325,350,375,400,425,450,475,500,525,550,575,600,625,650,675,700], "tickCount": 100, "labelOverlap": false,
                     "labelExpr": "datum.value % 100 == 0 ? datum.label : ''", "tickSize": {"condition": {"test": "datum.value % 100 == 0", "value": 5}, "value": 3}, "tickColor": "#222", "domain": false, "grid": false, "labelFontSize": 9, "titleFontSize": 11.5, "titlePadding": 4}}
    }}
  ], "spacing": 5}
],
"bounds": "flush",
"spacing": 512,
"resolve": {"scale": {"shape": "independent"}}
}
